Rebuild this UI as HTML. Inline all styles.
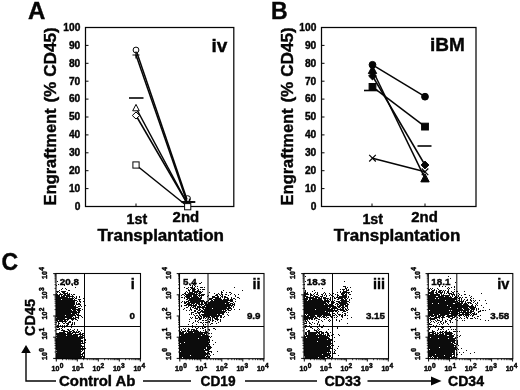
<!DOCTYPE html>
<html><head><meta charset="utf-8"><style>
html,body{margin:0;padding:0;background:#fff;}
svg{display:block;}
text{fill:#050505;stroke:#050505;stroke-width:0.4px;} .tk text{stroke-width:0.5px;}
</style></head><body>
<svg width="520" height="390" viewBox="0 0 520 390" style="filter:grayscale(1)">
<rect width="520" height="390" fill="#fff"/>
<rect x="85.5" y="27.5" width="148.3" height="179" fill="none" stroke="#050505" stroke-width="1.25"/>
<text x="80.3" y="209.8" font-size="10.2" text-anchor="end" font-family="Liberation Sans, sans-serif" font-weight="bold">0</text>
<line x1="85.5" y1="188.6" x2="88.5" y2="188.6" stroke="#050505" stroke-width="1"/>
<text x="80.3" y="191.9" font-size="10.2" text-anchor="end" font-family="Liberation Sans, sans-serif" font-weight="bold">10</text>
<line x1="85.5" y1="170.7" x2="88.5" y2="170.7" stroke="#050505" stroke-width="1"/>
<text x="80.3" y="174.0" font-size="10.2" text-anchor="end" font-family="Liberation Sans, sans-serif" font-weight="bold">20</text>
<line x1="85.5" y1="152.8" x2="88.5" y2="152.8" stroke="#050505" stroke-width="1"/>
<text x="80.3" y="156.1" font-size="10.2" text-anchor="end" font-family="Liberation Sans, sans-serif" font-weight="bold">30</text>
<line x1="85.5" y1="134.9" x2="88.5" y2="134.9" stroke="#050505" stroke-width="1"/>
<text x="80.3" y="138.2" font-size="10.2" text-anchor="end" font-family="Liberation Sans, sans-serif" font-weight="bold">40</text>
<line x1="85.5" y1="117.0" x2="88.5" y2="117.0" stroke="#050505" stroke-width="1"/>
<text x="80.3" y="120.3" font-size="10.2" text-anchor="end" font-family="Liberation Sans, sans-serif" font-weight="bold">50</text>
<line x1="85.5" y1="99.1" x2="88.5" y2="99.1" stroke="#050505" stroke-width="1"/>
<text x="80.3" y="102.4" font-size="10.2" text-anchor="end" font-family="Liberation Sans, sans-serif" font-weight="bold">60</text>
<line x1="85.5" y1="81.2" x2="88.5" y2="81.2" stroke="#050505" stroke-width="1"/>
<text x="80.3" y="84.5" font-size="10.2" text-anchor="end" font-family="Liberation Sans, sans-serif" font-weight="bold">70</text>
<line x1="85.5" y1="63.3" x2="88.5" y2="63.3" stroke="#050505" stroke-width="1"/>
<text x="80.3" y="66.6" font-size="10.2" text-anchor="end" font-family="Liberation Sans, sans-serif" font-weight="bold">80</text>
<line x1="85.5" y1="45.4" x2="88.5" y2="45.4" stroke="#050505" stroke-width="1"/>
<text x="80.3" y="48.7" font-size="10.2" text-anchor="end" font-family="Liberation Sans, sans-serif" font-weight="bold">90</text>
<text x="80.3" y="30.8" font-size="10.2" text-anchor="end" font-family="Liberation Sans, sans-serif" font-weight="bold">100</text>
<line x1="136" y1="206.5" x2="136" y2="203.5" stroke="#050505" stroke-width="1"/>
<line x1="187" y1="206.5" x2="187" y2="203.5" stroke="#050505" stroke-width="1"/>
<text transform="translate(56.2,205.4) rotate(-90)" font-size="16" textLength="97" lengthAdjust="spacingAndGlyphs" font-family="Liberation Sans, sans-serif" font-weight="bold">Engraftment</text>
<text transform="translate(56.2,102.6) rotate(-90)" font-size="16" textLength="75.4" lengthAdjust="spacingAndGlyphs" font-family="Liberation Sans, sans-serif" font-weight="bold">(% CD45)</text>
<rect x="321.5" y="27.5" width="154.5" height="179" fill="none" stroke="#050505" stroke-width="1.25"/>
<text x="316.3" y="209.8" font-size="10.2" text-anchor="end" font-family="Liberation Sans, sans-serif" font-weight="bold">0</text>
<line x1="321.5" y1="188.6" x2="324.5" y2="188.6" stroke="#050505" stroke-width="1"/>
<text x="316.3" y="191.9" font-size="10.2" text-anchor="end" font-family="Liberation Sans, sans-serif" font-weight="bold">10</text>
<line x1="321.5" y1="170.7" x2="324.5" y2="170.7" stroke="#050505" stroke-width="1"/>
<text x="316.3" y="174.0" font-size="10.2" text-anchor="end" font-family="Liberation Sans, sans-serif" font-weight="bold">20</text>
<line x1="321.5" y1="152.8" x2="324.5" y2="152.8" stroke="#050505" stroke-width="1"/>
<text x="316.3" y="156.1" font-size="10.2" text-anchor="end" font-family="Liberation Sans, sans-serif" font-weight="bold">30</text>
<line x1="321.5" y1="134.9" x2="324.5" y2="134.9" stroke="#050505" stroke-width="1"/>
<text x="316.3" y="138.2" font-size="10.2" text-anchor="end" font-family="Liberation Sans, sans-serif" font-weight="bold">40</text>
<line x1="321.5" y1="117.0" x2="324.5" y2="117.0" stroke="#050505" stroke-width="1"/>
<text x="316.3" y="120.3" font-size="10.2" text-anchor="end" font-family="Liberation Sans, sans-serif" font-weight="bold">50</text>
<line x1="321.5" y1="99.1" x2="324.5" y2="99.1" stroke="#050505" stroke-width="1"/>
<text x="316.3" y="102.4" font-size="10.2" text-anchor="end" font-family="Liberation Sans, sans-serif" font-weight="bold">60</text>
<line x1="321.5" y1="81.2" x2="324.5" y2="81.2" stroke="#050505" stroke-width="1"/>
<text x="316.3" y="84.5" font-size="10.2" text-anchor="end" font-family="Liberation Sans, sans-serif" font-weight="bold">70</text>
<line x1="321.5" y1="63.3" x2="324.5" y2="63.3" stroke="#050505" stroke-width="1"/>
<text x="316.3" y="66.6" font-size="10.2" text-anchor="end" font-family="Liberation Sans, sans-serif" font-weight="bold">80</text>
<line x1="321.5" y1="45.4" x2="324.5" y2="45.4" stroke="#050505" stroke-width="1"/>
<text x="316.3" y="48.7" font-size="10.2" text-anchor="end" font-family="Liberation Sans, sans-serif" font-weight="bold">90</text>
<text x="316.3" y="30.8" font-size="10.2" text-anchor="end" font-family="Liberation Sans, sans-serif" font-weight="bold">100</text>
<line x1="372" y1="206.5" x2="372" y2="203.5" stroke="#050505" stroke-width="1"/>
<line x1="425" y1="206.5" x2="425" y2="203.5" stroke="#050505" stroke-width="1"/>
<text transform="translate(292.8,205.4) rotate(-90)" font-size="16" textLength="97" lengthAdjust="spacingAndGlyphs" font-family="Liberation Sans, sans-serif" font-weight="bold">Engraftment</text>
<text transform="translate(292.8,102.6) rotate(-90)" font-size="16" textLength="75.4" lengthAdjust="spacingAndGlyphs" font-family="Liberation Sans, sans-serif" font-weight="bold">(% CD45)</text>
<text x="28" y="19" font-size="24" font-family="Liberation Sans, sans-serif" font-weight="bold">A</text>
<text x="271" y="18.5" font-size="23" font-family="Liberation Sans, sans-serif" font-weight="bold">B</text>
<text x="1.5" y="269.8" font-size="23" font-family="Liberation Sans, sans-serif" font-weight="bold">C</text>
<text x="211.5" y="51.7" font-size="19" font-family="Liberation Sans, sans-serif" font-weight="bold">iv</text>
<text x="430" y="50.8" font-size="19" font-family="Liberation Sans, sans-serif" font-weight="bold">iBM</text>
<text x="126.6" y="223.6" font-size="13.8" textLength="20.6" lengthAdjust="spacingAndGlyphs" font-family="Liberation Sans, sans-serif" font-weight="bold">1st</text>
<text x="172.6" y="222" font-size="14.2" textLength="26.6" lengthAdjust="spacingAndGlyphs" font-family="Liberation Sans, sans-serif" font-weight="bold">2nd</text>
<text x="97.4" y="240.6" font-size="15.6" textLength="126.6" lengthAdjust="spacingAndGlyphs" font-family="Liberation Sans, sans-serif" font-weight="bold">Transplantation</text>
<text x="362.4" y="223.6" font-size="13.8" textLength="20.6" lengthAdjust="spacingAndGlyphs" font-family="Liberation Sans, sans-serif" font-weight="bold">1st</text>
<text x="411.3" y="222" font-size="14.2" textLength="26.6" lengthAdjust="spacingAndGlyphs" font-family="Liberation Sans, sans-serif" font-weight="bold">2nd</text>
<text x="333.8" y="240.6" font-size="15.6" textLength="126.6" lengthAdjust="spacingAndGlyphs" font-family="Liberation Sans, sans-serif" font-weight="bold">Transplantation</text>
<line x1="136" y1="50.0" x2="187" y2="199.5" stroke="#050505" stroke-width="1.5"/>
<line x1="136" y1="55.0" x2="187" y2="202.0" stroke="#050505" stroke-width="1.5"/>
<line x1="136" y1="108.0" x2="187" y2="203.0" stroke="#050505" stroke-width="1.5"/>
<line x1="136" y1="115.5" x2="187" y2="203.0" stroke="#050505" stroke-width="1.5"/>
<line x1="136" y1="165.0" x2="187" y2="206.0" stroke="#050505" stroke-width="1.5"/>
<circle cx="136" cy="50" r="2.9" fill="#fff" stroke="#050505" stroke-width="1"/>
<path d="M132.5 55 H139.5 M136 51.5 V58.5" fill="none" stroke="#050505" stroke-width="1.2"/>
<path d="M136 104.4 L139.3 110.8 L132.7 110.8 Z" fill="#fff" stroke="#050505" stroke-width="1"/>
<path d="M136 112.0 L139.7 115.5 L136 119.0 L132.3 115.5 Z" fill="#fff" stroke="#050505" stroke-width="1"/>
<rect x="132.9" y="161.9" width="6.2" height="6.2" fill="#fff" stroke="#050505" stroke-width="1"/>
<circle cx="187.6" cy="198.6" r="2.9" fill="none" stroke="#050505" stroke-width="1"/>
<path d="M186.0 201.9 H193.0 M189.5 198.4 V205.4" fill="none" stroke="#050505" stroke-width="1.2"/>
<rect x="184.6" y="203.6" width="6.2" height="6.2" fill="#fff" stroke="#050505" stroke-width="1"/>
<line x1="129" y1="98" x2="143.5" y2="98" stroke="#050505" stroke-width="1.6"/>
<line x1="181.5" y1="202" x2="195.3" y2="202" stroke="#050505" stroke-width="1.9"/>
<line x1="372.5" y1="64.8" x2="425" y2="96.7" stroke="#050505" stroke-width="1.5"/>
<line x1="372.5" y1="70.0" x2="425" y2="178.3" stroke="#050505" stroke-width="1.5"/>
<line x1="372.5" y1="76.0" x2="425" y2="165.0" stroke="#050505" stroke-width="1.5"/>
<line x1="372.5" y1="86.9" x2="425" y2="126.6" stroke="#050505" stroke-width="1.5"/>
<line x1="372.5" y1="158.2" x2="425" y2="171.8" stroke="#050505" stroke-width="1.5"/>
<circle cx="372.5" cy="64.8" r="3.4" fill="#050505" stroke="#050505" stroke-width="1"/>
<circle cx="425" cy="96.7" r="3.4" fill="#050505" stroke="#050505" stroke-width="1"/>
<path d="M372.5 65.4 L376.7 73.6 L368.3 73.6 Z" fill="#050505" stroke="#050505" stroke-width="1"/>
<path d="M425 173.70000000000002 L429.2 181.9 L420.8 181.9 Z" fill="#050505" stroke="#050505" stroke-width="1"/>
<path d="M372.5 72.1 L376.4 76.0 L372.5 79.9 L368.6 76.0 Z" fill="#050505" stroke="#050505" stroke-width="1"/>
<path d="M425 161.1 L428.9 165 L425 168.9 L421.1 165 Z" fill="#050505" stroke="#050505" stroke-width="1"/>
<rect x="369.1" y="83.5" width="6.8" height="6.8" fill="#050505" stroke="#050505" stroke-width="1"/>
<rect x="421.6" y="123.19999999999999" width="6.8" height="6.8" fill="#050505" stroke="#050505" stroke-width="1"/>
<path d="M369.2 154.89999999999998 L375.8 161.5 M369.2 161.5 L375.8 154.89999999999998" fill="none" stroke="#050505" stroke-width="1.2"/>
<path d="M421.7 168.5 L428.3 175.10000000000002 M421.7 175.10000000000002 L428.3 168.5" fill="none" stroke="#050505" stroke-width="1.2"/>
<line x1="364" y1="90.5" x2="378" y2="90.5" stroke="#050505" stroke-width="1.6"/>
<line x1="417.5" y1="146" x2="431.5" y2="146" stroke="#050505" stroke-width="1.6"/>
<path d="M57 281h1v1h-1zM58 284h1v1h-1zM64 284h1v1h-1zM56 285h1v1h-1zM64 285h1v1h-1zM72 285h1v1h-1zM75 287h1v1h-1zM62 288h1v1h-1zM65 288h1v1h-1zM61 289h1v1h-1zM66 289h1v1h-1zM59 290h1v1h-1zM68 290h2v1h-2zM56 291h3v1h-3zM61 291h5v1h-5zM57 292h1v1h-1zM59 292h1v1h-1zM62 292h3v1h-3zM67 292h1v1h-1zM84 292h1v1h-1zM56 293h1v1h-1zM60 293h1v1h-1zM63 293h5v1h-5zM69 293h1v1h-1zM56 294h2v1h-2zM59 294h4v1h-4zM64 294h2v1h-2zM67 294h3v1h-3zM71 294h1v1h-1zM73 294h2v1h-2zM56 295h4v1h-4zM61 295h1v1h-1zM63 295h7v1h-7zM72 295h1v1h-1zM56 296h4v1h-4zM61 296h4v1h-4zM66 296h8v1h-8zM76 296h1v1h-1zM79 296h1v1h-1zM56 297h12v1h-12zM69 297h1v1h-1zM72 297h1v1h-1zM74 297h1v1h-1zM76 297h1v1h-1zM79 297h1v1h-1zM56 298h18v1h-18zM75 298h2v1h-2zM83 298h1v1h-1zM56 299h5v1h-5zM62 299h11v1h-11zM74 299h1v1h-1zM78 299h3v1h-3zM56 300h21v1h-21zM79 300h1v1h-1zM56 301h19v1h-19zM77 301h1v1h-1zM79 301h2v1h-2zM83 301h1v1h-1zM56 302h19v1h-19zM76 302h1v1h-1zM80 302h1v1h-1zM56 303h19v1h-19zM76 303h1v1h-1zM78 303h2v1h-2zM56 304h19v1h-19zM76 304h5v1h-5zM56 305h18v1h-18zM75 305h1v1h-1zM80 305h1v1h-1zM85 305h1v1h-1zM56 306h20v1h-20zM78 306h2v1h-2zM81 306h1v1h-1zM56 307h22v1h-22zM56 308h20v1h-20zM78 308h3v1h-3zM56 309h15v1h-15zM72 309h8v1h-8zM82 309h1v1h-1zM56 310h16v1h-16zM73 310h3v1h-3zM77 310h4v1h-4zM56 311h21v1h-21zM78 311h2v1h-2zM56 312h24v1h-24zM56 313h15v1h-15zM72 313h5v1h-5zM78 313h1v1h-1zM56 314h19v1h-19zM76 314h3v1h-3zM56 315h9v1h-9zM66 315h10v1h-10zM77 315h4v1h-4zM56 316h17v1h-17zM75 316h1v1h-1zM78 316h1v1h-1zM81 316h1v1h-1zM57 317h15v1h-15zM73 317h1v1h-1zM75 317h4v1h-4zM82 317h1v1h-1zM56 318h9v1h-9zM67 318h9v1h-9zM78 318h1v1h-1zM56 319h13v1h-13zM71 319h3v1h-3zM75 319h2v1h-2zM56 320h2v1h-2zM59 320h4v1h-4zM64 320h2v1h-2zM67 320h1v1h-1zM72 320h1v1h-1zM77 320h1v1h-1zM57 321h10v1h-10zM69 321h2v1h-2zM56 322h1v1h-1zM58 322h1v1h-1zM62 322h1v1h-1zM65 322h1v1h-1zM68 322h3v1h-3zM72 322h1v1h-1zM74 322h1v1h-1zM58 323h2v1h-2zM63 323h2v1h-2zM66 323h3v1h-3zM72 323h1v1h-1zM74 323h1v1h-1zM58 324h1v1h-1zM67 324h2v1h-2zM71 324h2v1h-2zM74 324h1v1h-1zM57 325h2v1h-2zM60 325h1v1h-1zM62 325h1v1h-1zM64 325h1v1h-1zM66 325h2v1h-2zM71 325h1v1h-1zM63 326h1v1h-1zM65 326h1v1h-1zM57 327h2v1h-2zM62 327h1v1h-1zM64 327h1v1h-1zM71 327h1v1h-1zM59 328h1v1h-1zM61 328h1v1h-1zM56 329h4v1h-4zM62 329h1v1h-1zM67 329h2v1h-2zM70 329h1v1h-1zM74 329h1v1h-1zM77 329h1v1h-1zM61 330h4v1h-4zM68 330h2v1h-2zM72 330h2v1h-2zM77 330h1v1h-1zM81 330h1v1h-1zM63 331h5v1h-5zM69 331h3v1h-3zM73 331h2v1h-2zM76 331h1v1h-1zM78 331h2v1h-2zM59 332h6v1h-6zM67 332h4v1h-4zM72 332h7v1h-7zM80 332h1v1h-1zM56 333h10v1h-10zM67 333h6v1h-6zM75 333h1v1h-1zM79 333h2v1h-2zM82 333h2v1h-2zM56 334h16v1h-16zM73 334h10v1h-10zM57 335h9v1h-9zM67 335h11v1h-11zM80 335h1v1h-1zM82 335h2v1h-2zM56 336h22v1h-22zM79 336h4v1h-4zM57 337h28v1h-28zM56 338h27v1h-27zM56 339h25v1h-25zM85 339h1v1h-1zM56 340h27v1h-27zM84 340h2v1h-2zM56 341h27v1h-27zM84 341h1v1h-1zM56 342h25v1h-25zM82 342h1v1h-1zM85 342h1v1h-1zM56 343h28v1h-28zM56 344h25v1h-25zM56 345h26v1h-26zM56 346h28v1h-28zM56 347h25v1h-25zM82 347h1v1h-1zM56 348h28v1h-28zM85 348h1v1h-1zM56 349h28v1h-28zM57 350h24v1h-24zM82 350h1v1h-1zM56 351h26v1h-26zM57 352h24v1h-24zM83 352h2v1h-2zM56 353h25v1h-25zM82 353h2v1h-2zM56 354h27v1h-27zM56 355h25v1h-25zM82 355h1v1h-1zM56 356h28v1h-28zM56 357h26v1h-26zM83 357h2v1h-2zM56 358h25v1h-25zM82 358h2v1h-2z" fill="#0c0c0c"/>
<rect x="56" y="273.5" width="84.5" height="85.19999999999999" fill="none" stroke="#050505" stroke-width="1.1"/>
<line x1="84.5" y1="273.5" x2="84.5" y2="358.7" stroke="#050505" stroke-width="1"/>
<line x1="56" y1="326.5" x2="140.5" y2="326.5" stroke="#050505" stroke-width="1"/>
<path d="M62.6 358.7v1.5M56 352.0h-1.5M66.3 358.7v1.5M56 348.3h-1.5M68.9 358.7v1.5M56 345.6h-1.5M71.0 358.7v1.5M56 343.6h-1.5M72.6 358.7v1.5M56 341.9h-1.5M74.0 358.7v1.5M56 340.5h-1.5M75.3 358.7v1.5M56 339.3h-1.5M76.3 358.7v1.5M56 338.2h-1.5M83.6 358.7v1.5M56 330.8h-1.5M87.3 358.7v1.5M56 327.1h-1.5M89.9 358.7v1.5M56 324.4h-1.5M92.0 358.7v1.5M56 322.4h-1.5M93.6 358.7v1.5M56 320.7h-1.5M95.0 358.7v1.5M56 319.3h-1.5M96.3 358.7v1.5M56 318.1h-1.5M97.3 358.7v1.5M56 317.0h-1.5M104.6 358.7v1.5M56 309.6h-1.5M108.3 358.7v1.5M56 305.9h-1.5M110.9 358.7v1.5M56 303.2h-1.5M113.0 358.7v1.5M56 301.2h-1.5M114.6 358.7v1.5M56 299.5h-1.5M116.0 358.7v1.5M56 298.1h-1.5M117.3 358.7v1.5M56 296.9h-1.5M118.3 358.7v1.5M56 295.8h-1.5M125.6 358.7v1.5M56 288.4h-1.5M129.3 358.7v1.5M56 284.7h-1.5M131.9 358.7v1.5M56 282.0h-1.5M134.0 358.7v1.5M56 280.0h-1.5M135.6 358.7v1.5M56 278.3h-1.5M137.0 358.7v1.5M56 276.9h-1.5M138.3 358.7v1.5M56 275.7h-1.5M139.3 358.7v1.5M56 274.6h-1.5" fill="none" stroke="#050505" stroke-width="0.8"/>
<line x1="56.3" y1="358.7" x2="56.3" y2="361.5" stroke="#050505" stroke-width="1"/>
<line x1="56" y1="358.4" x2="53.2" y2="358.4" stroke="#050505" stroke-width="1"/>
<g class="tk" transform="translate(51.6,371.2) scale(0.88,1)"><text x="0" y="0" font-size="8" font-family="Liberation Sans, sans-serif" font-weight="bold">10<tspan dy="-3.6" dx="0.3" font-size="7.5">0</tspan></text></g>
<g class="tk" transform="translate(47.4,359.9) rotate(-90) scale(0.88,1)"><text x="0" y="0" font-size="8" font-family="Liberation Sans, sans-serif" font-weight="bold">10<tspan dy="-3.6" dx="0.3" font-size="7.5">0</tspan></text></g>
<line x1="77.3" y1="358.7" x2="77.3" y2="361.5" stroke="#050505" stroke-width="1"/>
<line x1="56" y1="337.2" x2="53.2" y2="337.2" stroke="#050505" stroke-width="1"/>
<g class="tk" transform="translate(72.0,371.2) scale(0.88,1)"><text x="0" y="0" font-size="8" font-family="Liberation Sans, sans-serif" font-weight="bold">10<tspan dy="-3.6" dx="0.3" font-size="7.5">1</tspan></text></g>
<g class="tk" transform="translate(47.4,339.6) rotate(-90) scale(0.88,1)"><text x="0" y="0" font-size="8" font-family="Liberation Sans, sans-serif" font-weight="bold">10<tspan dy="-3.6" dx="0.3" font-size="7.5">1</tspan></text></g>
<line x1="98.3" y1="358.7" x2="98.3" y2="361.5" stroke="#050505" stroke-width="1"/>
<line x1="56" y1="316.0" x2="53.2" y2="316.0" stroke="#050505" stroke-width="1"/>
<g class="tk" transform="translate(92.5,371.2) scale(0.88,1)"><text x="0" y="0" font-size="8" font-family="Liberation Sans, sans-serif" font-weight="bold">10<tspan dy="-3.6" dx="0.3" font-size="7.5">2</tspan></text></g>
<g class="tk" transform="translate(47.4,319.4) rotate(-90) scale(0.88,1)"><text x="0" y="0" font-size="8" font-family="Liberation Sans, sans-serif" font-weight="bold">10<tspan dy="-3.6" dx="0.3" font-size="7.5">2</tspan></text></g>
<line x1="119.3" y1="358.7" x2="119.3" y2="361.5" stroke="#050505" stroke-width="1"/>
<line x1="56" y1="294.8" x2="53.2" y2="294.8" stroke="#050505" stroke-width="1"/>
<g class="tk" transform="translate(112.9,371.2) scale(0.88,1)"><text x="0" y="0" font-size="8" font-family="Liberation Sans, sans-serif" font-weight="bold">10<tspan dy="-3.6" dx="0.3" font-size="7.5">3</tspan></text></g>
<g class="tk" transform="translate(47.4,299.1) rotate(-90) scale(0.88,1)"><text x="0" y="0" font-size="8" font-family="Liberation Sans, sans-serif" font-weight="bold">10<tspan dy="-3.6" dx="0.3" font-size="7.5">3</tspan></text></g>
<line x1="140.3" y1="358.7" x2="140.3" y2="361.5" stroke="#050505" stroke-width="1"/>
<line x1="56" y1="273.6" x2="53.2" y2="273.6" stroke="#050505" stroke-width="1"/>
<g class="tk" transform="translate(133.4,371.2) scale(0.88,1)"><text x="0" y="0" font-size="8" font-family="Liberation Sans, sans-serif" font-weight="bold">10<tspan dy="-3.6" dx="0.3" font-size="7.5">4</tspan></text></g>
<g class="tk" transform="translate(47.4,278.9) rotate(-90) scale(0.88,1)"><text x="0" y="0" font-size="8" font-family="Liberation Sans, sans-serif" font-weight="bold">10<tspan dy="-3.6" dx="0.3" font-size="7.5">4</tspan></text></g>
<text x="59.8" y="284.8" font-size="9.8" font-family="Liberation Sans, sans-serif" font-weight="bold">20.8</text>
<text x="134.9" y="318.5" font-size="9.8" text-anchor="end" font-family="Liberation Sans, sans-serif" font-weight="bold">0</text>
<text x="134.9" y="288.6" font-size="14.5" text-anchor="end" font-family="Liberation Sans, sans-serif" font-weight="bold">i</text>
<path d="M194 282h1v1h-1zM201 282h1v1h-1zM199 283h2v1h-2zM189 284h1v1h-1zM193 284h1v1h-1zM190 285h1v1h-1zM192 285h1v1h-1zM194 285h1v1h-1zM192 286h1v1h-1zM195 286h1v1h-1zM197 286h1v1h-1zM184 287h1v1h-1zM188 287h1v1h-1zM190 287h3v1h-3zM194 287h1v1h-1zM200 287h3v1h-3zM204 287h1v1h-1zM234 287h1v1h-1zM186 288h2v1h-2zM191 288h4v1h-4zM197 288h1v1h-1zM188 289h1v1h-1zM190 289h1v1h-1zM192 289h4v1h-4zM198 289h1v1h-1zM200 289h1v1h-1zM202 289h3v1h-3zM188 290h2v1h-2zM192 290h3v1h-3zM197 290h2v1h-2zM223 290h1v1h-1zM242 290h1v1h-1zM186 291h1v1h-1zM189 291h1v1h-1zM192 291h9v1h-9zM202 291h1v1h-1zM221 291h1v1h-1zM185 292h1v1h-1zM187 292h1v1h-1zM189 292h4v1h-4zM194 292h4v1h-4zM199 292h3v1h-3zM209 292h1v1h-1zM221 292h2v1h-2zM226 292h1v1h-1zM229 292h2v1h-2zM184 293h2v1h-2zM188 293h7v1h-7zM196 293h1v1h-1zM198 293h3v1h-3zM214 293h1v1h-1zM218 293h1v1h-1zM221 293h1v1h-1zM231 293h1v1h-1zM182 294h2v1h-2zM185 294h13v1h-13zM199 294h1v1h-1zM201 294h4v1h-4zM216 294h2v1h-2zM219 294h1v1h-1zM221 294h2v1h-2zM225 294h2v1h-2zM230 294h1v1h-1zM234 294h1v1h-1zM238 294h1v1h-1zM181 295h1v1h-1zM184 295h1v1h-1zM186 295h6v1h-6zM193 295h4v1h-4zM198 295h6v1h-6zM208 295h1v1h-1zM215 295h3v1h-3zM220 295h1v1h-1zM222 295h1v1h-1zM228 295h1v1h-1zM235 295h1v1h-1zM185 296h7v1h-7zM193 296h5v1h-5zM199 296h1v1h-1zM201 296h1v1h-1zM207 296h1v1h-1zM212 296h3v1h-3zM217 296h2v1h-2zM221 296h2v1h-2zM224 296h2v1h-2zM235 296h1v1h-1zM181 297h2v1h-2zM184 297h1v1h-1zM186 297h4v1h-4zM191 297h8v1h-8zM200 297h2v1h-2zM212 297h7v1h-7zM220 297h1v1h-1zM222 297h1v1h-1zM224 297h4v1h-4zM231 297h1v1h-1zM237 297h2v1h-2zM184 298h1v1h-1zM187 298h15v1h-15zM209 298h4v1h-4zM215 298h6v1h-6zM224 298h1v1h-1zM227 298h2v1h-2zM231 298h1v1h-1zM233 298h2v1h-2zM239 298h1v1h-1zM186 299h2v1h-2zM189 299h12v1h-12zM209 299h3v1h-3zM213 299h9v1h-9zM223 299h6v1h-6zM230 299h3v1h-3zM235 299h1v1h-1zM188 300h16v1h-16zM208 300h1v1h-1zM211 300h2v1h-2zM214 300h19v1h-19zM182 301h1v1h-1zM184 301h1v1h-1zM186 301h3v1h-3zM190 301h15v1h-15zM206 301h2v1h-2zM210 301h18v1h-18zM230 301h3v1h-3zM235 301h1v1h-1zM181 302h1v1h-1zM184 302h3v1h-3zM188 302h12v1h-12zM201 302h2v1h-2zM204 302h3v1h-3zM208 302h22v1h-22zM233 302h1v1h-1zM184 303h2v1h-2zM187 303h3v1h-3zM191 303h4v1h-4zM196 303h4v1h-4zM201 303h2v1h-2zM204 303h3v1h-3zM208 303h17v1h-17zM226 303h3v1h-3zM230 303h3v1h-3zM234 303h1v1h-1zM186 304h6v1h-6zM193 304h1v1h-1zM195 304h2v1h-2zM198 304h6v1h-6zM205 304h26v1h-26zM232 304h3v1h-3zM181 305h1v1h-1zM184 305h3v1h-3zM188 305h9v1h-9zM199 305h1v1h-1zM201 305h1v1h-1zM204 305h29v1h-29zM234 305h1v1h-1zM181 306h1v1h-1zM188 306h1v1h-1zM191 306h1v1h-1zM193 306h3v1h-3zM197 306h4v1h-4zM202 306h3v1h-3zM206 306h24v1h-24zM231 306h1v1h-1zM233 306h1v1h-1zM186 307h2v1h-2zM190 307h1v1h-1zM192 307h2v1h-2zM195 307h1v1h-1zM197 307h30v1h-30zM228 307h3v1h-3zM233 307h1v1h-1zM184 308h1v1h-1zM190 308h1v1h-1zM194 308h4v1h-4zM199 308h1v1h-1zM202 308h2v1h-2zM205 308h7v1h-7zM213 308h19v1h-19zM183 309h1v1h-1zM190 309h2v1h-2zM196 309h2v1h-2zM199 309h2v1h-2zM203 309h23v1h-23zM227 309h2v1h-2zM231 309h1v1h-1zM234 309h1v1h-1zM239 309h1v1h-1zM186 310h1v1h-1zM189 310h1v1h-1zM191 310h1v1h-1zM194 310h2v1h-2zM198 310h2v1h-2zM201 310h2v1h-2zM204 310h18v1h-18zM223 310h1v1h-1zM225 310h2v1h-2zM228 310h3v1h-3zM194 311h2v1h-2zM197 311h1v1h-1zM200 311h26v1h-26zM191 312h3v1h-3zM197 312h4v1h-4zM202 312h23v1h-23zM226 312h1v1h-1zM228 312h1v1h-1zM191 313h1v1h-1zM195 313h2v1h-2zM198 313h2v1h-2zM204 313h20v1h-20zM189 314h1v1h-1zM191 314h1v1h-1zM193 314h1v1h-1zM199 314h1v1h-1zM201 314h16v1h-16zM218 314h2v1h-2zM222 314h2v1h-2zM227 314h1v1h-1zM194 315h1v1h-1zM196 315h2v1h-2zM199 315h2v1h-2zM202 315h20v1h-20zM228 315h1v1h-1zM195 316h1v1h-1zM198 316h1v1h-1zM200 316h2v1h-2zM203 316h7v1h-7zM211 316h8v1h-8zM220 316h2v1h-2zM224 316h1v1h-1zM190 317h1v1h-1zM192 317h1v1h-1zM195 317h1v1h-1zM198 317h2v1h-2zM201 317h1v1h-1zM203 317h2v1h-2zM206 317h1v1h-1zM208 317h3v1h-3zM212 317h3v1h-3zM216 317h2v1h-2zM220 317h2v1h-2zM223 317h1v1h-1zM191 318h1v1h-1zM195 318h3v1h-3zM199 318h3v1h-3zM203 318h1v1h-1zM205 318h1v1h-1zM208 318h1v1h-1zM210 318h1v1h-1zM212 318h1v1h-1zM214 318h4v1h-4zM189 319h1v1h-1zM199 319h2v1h-2zM207 319h1v1h-1zM209 319h2v1h-2zM212 319h1v1h-1zM215 319h4v1h-4zM220 319h1v1h-1zM195 320h1v1h-1zM198 320h1v1h-1zM202 320h2v1h-2zM205 320h2v1h-2zM210 320h1v1h-1zM212 320h2v1h-2zM217 320h1v1h-1zM220 320h1v1h-1zM189 321h1v1h-1zM195 321h1v1h-1zM197 321h1v1h-1zM208 321h2v1h-2zM212 321h1v1h-1zM215 321h1v1h-1zM220 321h1v1h-1zM193 322h1v1h-1zM198 322h1v1h-1zM200 322h2v1h-2zM203 322h1v1h-1zM205 322h3v1h-3zM209 322h1v1h-1zM218 322h1v1h-1zM192 323h1v1h-1zM202 323h1v1h-1zM211 323h2v1h-2zM216 323h1v1h-1zM188 324h1v1h-1zM196 324h1v1h-1zM203 324h1v1h-1zM205 324h1v1h-1zM210 324h1v1h-1zM192 325h1v1h-1zM203 325h1v1h-1zM193 326h1v1h-1zM205 326h1v1h-1zM192 327h1v1h-1zM195 327h1v1h-1zM198 327h1v1h-1zM202 327h1v1h-1zM204 327h2v1h-2zM183 328h1v1h-1zM185 328h1v1h-1zM188 328h1v1h-1zM196 328h2v1h-2zM200 328h1v1h-1zM202 328h2v1h-2zM213 328h2v1h-2zM181 329h1v1h-1zM184 329h1v1h-1zM188 329h2v1h-2zM191 329h4v1h-4zM196 329h1v1h-1zM205 329h1v1h-1zM208 329h2v1h-2zM215 329h1v1h-1zM181 330h1v1h-1zM185 330h1v1h-1zM187 330h2v1h-2zM191 330h1v1h-1zM193 330h5v1h-5zM203 330h1v1h-1zM205 330h1v1h-1zM209 330h1v1h-1zM180 331h1v1h-1zM182 331h4v1h-4zM187 331h12v1h-12zM200 331h1v1h-1zM205 331h2v1h-2zM180 332h4v1h-4zM186 332h1v1h-1zM188 332h5v1h-5zM194 332h14v1h-14zM180 333h4v1h-4zM185 333h18v1h-18zM204 333h3v1h-3zM208 333h2v1h-2zM211 333h1v1h-1zM180 334h25v1h-25zM206 334h1v1h-1zM181 335h20v1h-20zM202 335h6v1h-6zM180 336h30v1h-30zM211 336h1v1h-1zM180 337h29v1h-29zM210 337h1v1h-1zM180 338h18v1h-18zM199 338h10v1h-10zM180 339h30v1h-30zM180 340h30v1h-30zM212 340h1v1h-1zM180 341h28v1h-28zM209 341h1v1h-1zM180 342h4v1h-4zM185 342h25v1h-25zM215 342h1v1h-1zM181 343h28v1h-28zM180 344h30v1h-30zM213 344h1v1h-1zM180 345h28v1h-28zM209 345h1v1h-1zM180 346h31v1h-31zM180 347h26v1h-26zM207 347h5v1h-5zM180 348h26v1h-26zM207 348h4v1h-4zM180 349h24v1h-24zM205 349h5v1h-5zM180 350h29v1h-29zM181 351h24v1h-24zM208 351h4v1h-4zM217 351h1v1h-1zM180 352h26v1h-26zM207 352h2v1h-2zM211 352h1v1h-1zM180 353h30v1h-30zM180 354h28v1h-28zM209 354h1v1h-1zM213 354h1v1h-1zM180 355h10v1h-10zM191 355h15v1h-15zM207 355h1v1h-1zM210 355h1v1h-1zM180 356h25v1h-25zM206 356h4v1h-4zM180 357h2v1h-2zM183 357h24v1h-24zM208 357h2v1h-2zM181 358h27v1h-27zM209 358h1v1h-1z" fill="#0c0c0c"/>
<rect x="179.5" y="273.5" width="84.5" height="85.19999999999999" fill="none" stroke="#050505" stroke-width="1.1"/>
<line x1="208.0" y1="273.5" x2="208.0" y2="358.7" stroke="#050505" stroke-width="1"/>
<line x1="179.5" y1="326.5" x2="264.0" y2="326.5" stroke="#050505" stroke-width="1"/>
<path d="M186.1 358.7v1.5M179.5 352.0h-1.5M189.8 358.7v1.5M179.5 348.3h-1.5M192.4 358.7v1.5M179.5 345.6h-1.5M194.5 358.7v1.5M179.5 343.6h-1.5M196.1 358.7v1.5M179.5 341.9h-1.5M197.5 358.7v1.5M179.5 340.5h-1.5M198.8 358.7v1.5M179.5 339.3h-1.5M199.8 358.7v1.5M179.5 338.2h-1.5M207.1 358.7v1.5M179.5 330.8h-1.5M210.8 358.7v1.5M179.5 327.1h-1.5M213.4 358.7v1.5M179.5 324.4h-1.5M215.5 358.7v1.5M179.5 322.4h-1.5M217.1 358.7v1.5M179.5 320.7h-1.5M218.5 358.7v1.5M179.5 319.3h-1.5M219.8 358.7v1.5M179.5 318.1h-1.5M220.8 358.7v1.5M179.5 317.0h-1.5M228.1 358.7v1.5M179.5 309.6h-1.5M231.8 358.7v1.5M179.5 305.9h-1.5M234.4 358.7v1.5M179.5 303.2h-1.5M236.5 358.7v1.5M179.5 301.2h-1.5M238.1 358.7v1.5M179.5 299.5h-1.5M239.5 358.7v1.5M179.5 298.1h-1.5M240.8 358.7v1.5M179.5 296.9h-1.5M241.8 358.7v1.5M179.5 295.8h-1.5M249.1 358.7v1.5M179.5 288.4h-1.5M252.8 358.7v1.5M179.5 284.7h-1.5M255.4 358.7v1.5M179.5 282.0h-1.5M257.5 358.7v1.5M179.5 280.0h-1.5M259.1 358.7v1.5M179.5 278.3h-1.5M260.5 358.7v1.5M179.5 276.9h-1.5M261.8 358.7v1.5M179.5 275.7h-1.5M262.8 358.7v1.5M179.5 274.6h-1.5" fill="none" stroke="#050505" stroke-width="0.8"/>
<line x1="179.8" y1="358.7" x2="179.8" y2="361.5" stroke="#050505" stroke-width="1"/>
<line x1="179.5" y1="358.4" x2="176.7" y2="358.4" stroke="#050505" stroke-width="1"/>
<g class="tk" transform="translate(175.1,371.2) scale(0.88,1)"><text x="0" y="0" font-size="8" font-family="Liberation Sans, sans-serif" font-weight="bold">10<tspan dy="-3.6" dx="0.3" font-size="7.5">0</tspan></text></g>
<g class="tk" transform="translate(170.9,359.9) rotate(-90) scale(0.88,1)"><text x="0" y="0" font-size="8" font-family="Liberation Sans, sans-serif" font-weight="bold">10<tspan dy="-3.6" dx="0.3" font-size="7.5">0</tspan></text></g>
<line x1="200.8" y1="358.7" x2="200.8" y2="361.5" stroke="#050505" stroke-width="1"/>
<line x1="179.5" y1="337.2" x2="176.7" y2="337.2" stroke="#050505" stroke-width="1"/>
<g class="tk" transform="translate(195.5,371.2) scale(0.88,1)"><text x="0" y="0" font-size="8" font-family="Liberation Sans, sans-serif" font-weight="bold">10<tspan dy="-3.6" dx="0.3" font-size="7.5">1</tspan></text></g>
<g class="tk" transform="translate(170.9,339.6) rotate(-90) scale(0.88,1)"><text x="0" y="0" font-size="8" font-family="Liberation Sans, sans-serif" font-weight="bold">10<tspan dy="-3.6" dx="0.3" font-size="7.5">1</tspan></text></g>
<line x1="221.8" y1="358.7" x2="221.8" y2="361.5" stroke="#050505" stroke-width="1"/>
<line x1="179.5" y1="316.0" x2="176.7" y2="316.0" stroke="#050505" stroke-width="1"/>
<g class="tk" transform="translate(216.0,371.2) scale(0.88,1)"><text x="0" y="0" font-size="8" font-family="Liberation Sans, sans-serif" font-weight="bold">10<tspan dy="-3.6" dx="0.3" font-size="7.5">2</tspan></text></g>
<g class="tk" transform="translate(170.9,319.4) rotate(-90) scale(0.88,1)"><text x="0" y="0" font-size="8" font-family="Liberation Sans, sans-serif" font-weight="bold">10<tspan dy="-3.6" dx="0.3" font-size="7.5">2</tspan></text></g>
<line x1="242.8" y1="358.7" x2="242.8" y2="361.5" stroke="#050505" stroke-width="1"/>
<line x1="179.5" y1="294.8" x2="176.7" y2="294.8" stroke="#050505" stroke-width="1"/>
<g class="tk" transform="translate(236.4,371.2) scale(0.88,1)"><text x="0" y="0" font-size="8" font-family="Liberation Sans, sans-serif" font-weight="bold">10<tspan dy="-3.6" dx="0.3" font-size="7.5">3</tspan></text></g>
<g class="tk" transform="translate(170.9,299.1) rotate(-90) scale(0.88,1)"><text x="0" y="0" font-size="8" font-family="Liberation Sans, sans-serif" font-weight="bold">10<tspan dy="-3.6" dx="0.3" font-size="7.5">3</tspan></text></g>
<line x1="263.8" y1="358.7" x2="263.8" y2="361.5" stroke="#050505" stroke-width="1"/>
<line x1="179.5" y1="273.6" x2="176.7" y2="273.6" stroke="#050505" stroke-width="1"/>
<g class="tk" transform="translate(256.9,371.2) scale(0.88,1)"><text x="0" y="0" font-size="8" font-family="Liberation Sans, sans-serif" font-weight="bold">10<tspan dy="-3.6" dx="0.3" font-size="7.5">4</tspan></text></g>
<g class="tk" transform="translate(170.9,278.9) rotate(-90) scale(0.88,1)"><text x="0" y="0" font-size="8" font-family="Liberation Sans, sans-serif" font-weight="bold">10<tspan dy="-3.6" dx="0.3" font-size="7.5">4</tspan></text></g>
<text x="183.0" y="284.8" font-size="9.8" font-family="Liberation Sans, sans-serif" font-weight="bold">5.4</text>
<text x="260.5" y="318.5" font-size="9.8" text-anchor="end" font-family="Liberation Sans, sans-serif" font-weight="bold">9.9</text>
<text x="260.5" y="288.6" font-size="14.5" text-anchor="end" font-family="Liberation Sans, sans-serif" font-weight="bold">ii</text>
<path d="M305 276h1v1h-1zM305 281h1v1h-1zM344 281h1v1h-1zM304 284h1v1h-1zM343 286h3v1h-3zM345 287h1v1h-1zM347 287h1v1h-1zM350 287h1v1h-1zM304 288h1v1h-1zM322 288h1v1h-1zM345 288h2v1h-2zM340 289h1v1h-1zM342 289h3v1h-3zM346 289h1v1h-1zM348 289h1v1h-1zM305 290h1v1h-1zM314 290h1v1h-1zM343 290h1v1h-1zM346 290h3v1h-3zM305 291h1v1h-1zM312 291h1v1h-1zM340 291h1v1h-1zM343 291h4v1h-4zM351 291h1v1h-1zM304 292h2v1h-2zM307 292h1v1h-1zM315 292h1v1h-1zM317 292h1v1h-1zM324 292h1v1h-1zM337 292h1v1h-1zM340 292h1v1h-1zM342 292h8v1h-8zM304 293h4v1h-4zM310 293h1v1h-1zM314 293h1v1h-1zM317 293h1v1h-1zM323 293h1v1h-1zM325 293h1v1h-1zM329 293h1v1h-1zM333 293h1v1h-1zM341 293h4v1h-4zM346 293h1v1h-1zM348 293h1v1h-1zM304 294h5v1h-5zM310 294h2v1h-2zM313 294h1v1h-1zM316 294h2v1h-2zM321 294h2v1h-2zM325 294h1v1h-1zM330 294h1v1h-1zM335 294h1v1h-1zM337 294h1v1h-1zM341 294h3v1h-3zM345 294h2v1h-2zM349 294h2v1h-2zM304 295h2v1h-2zM310 295h3v1h-3zM314 295h1v1h-1zM318 295h1v1h-1zM322 295h1v1h-1zM324 295h1v1h-1zM326 295h1v1h-1zM329 295h1v1h-1zM331 295h1v1h-1zM337 295h2v1h-2zM342 295h5v1h-5zM304 296h4v1h-4zM310 296h1v1h-1zM313 296h5v1h-5zM320 296h3v1h-3zM326 296h1v1h-1zM333 296h1v1h-1zM337 296h1v1h-1zM339 296h8v1h-8zM348 296h1v1h-1zM304 297h1v1h-1zM306 297h8v1h-8zM315 297h5v1h-5zM321 297h1v1h-1zM323 297h3v1h-3zM330 297h1v1h-1zM334 297h1v1h-1zM336 297h11v1h-11zM348 297h1v1h-1zM304 298h4v1h-4zM309 298h8v1h-8zM318 298h4v1h-4zM323 298h6v1h-6zM330 298h1v1h-1zM332 298h1v1h-1zM334 298h2v1h-2zM338 298h5v1h-5zM344 298h2v1h-2zM347 298h1v1h-1zM351 298h1v1h-1zM304 299h4v1h-4zM309 299h2v1h-2zM312 299h10v1h-10zM324 299h2v1h-2zM327 299h1v1h-1zM329 299h2v1h-2zM332 299h1v1h-1zM337 299h2v1h-2zM341 299h3v1h-3zM345 299h2v1h-2zM349 299h1v1h-1zM304 300h3v1h-3zM308 300h15v1h-15zM324 300h5v1h-5zM330 300h1v1h-1zM334 300h1v1h-1zM340 300h7v1h-7zM349 300h1v1h-1zM304 301h26v1h-26zM331 301h3v1h-3zM336 301h4v1h-4zM341 301h8v1h-8zM304 302h22v1h-22zM327 302h2v1h-2zM331 302h4v1h-4zM338 302h9v1h-9zM349 302h1v1h-1zM304 303h23v1h-23zM328 303h1v1h-1zM331 303h1v1h-1zM333 303h1v1h-1zM336 303h2v1h-2zM339 303h9v1h-9zM304 304h20v1h-20zM325 304h3v1h-3zM329 304h4v1h-4zM335 304h1v1h-1zM337 304h2v1h-2zM340 304h6v1h-6zM347 304h2v1h-2zM304 305h28v1h-28zM333 305h1v1h-1zM337 305h1v1h-1zM339 305h5v1h-5zM345 305h3v1h-3zM304 306h32v1h-32zM337 306h4v1h-4zM342 306h2v1h-2zM345 306h3v1h-3zM304 307h24v1h-24zM329 307h2v1h-2zM332 307h5v1h-5zM338 307h2v1h-2zM341 307h4v1h-4zM347 307h1v1h-1zM304 308h26v1h-26zM331 308h7v1h-7zM340 308h1v1h-1zM342 308h2v1h-2zM345 308h1v1h-1zM347 308h1v1h-1zM304 309h11v1h-11zM316 309h17v1h-17zM334 309h1v1h-1zM337 309h7v1h-7zM345 309h2v1h-2zM348 309h1v1h-1zM304 310h34v1h-34zM340 310h5v1h-5zM346 310h2v1h-2zM304 311h21v1h-21zM326 311h6v1h-6zM333 311h1v1h-1zM335 311h2v1h-2zM338 311h1v1h-1zM343 311h3v1h-3zM304 312h24v1h-24zM329 312h1v1h-1zM332 312h1v1h-1zM337 312h1v1h-1zM342 312h1v1h-1zM347 312h1v1h-1zM304 313h26v1h-26zM332 313h3v1h-3zM337 313h1v1h-1zM344 313h2v1h-2zM304 314h1v1h-1zM306 314h1v1h-1zM308 314h23v1h-23zM335 314h1v1h-1zM338 314h3v1h-3zM342 314h1v1h-1zM345 314h1v1h-1zM304 315h2v1h-2zM307 315h8v1h-8zM317 315h5v1h-5zM323 315h8v1h-8zM333 315h2v1h-2zM336 315h1v1h-1zM339 315h1v1h-1zM341 315h2v1h-2zM344 315h2v1h-2zM347 315h1v1h-1zM304 316h5v1h-5zM310 316h6v1h-6zM317 316h4v1h-4zM322 316h3v1h-3zM326 316h1v1h-1zM330 316h2v1h-2zM337 316h1v1h-1zM341 316h2v1h-2zM304 317h10v1h-10zM315 317h2v1h-2zM319 317h1v1h-1zM321 317h1v1h-1zM323 317h3v1h-3zM327 317h2v1h-2zM331 317h2v1h-2zM334 317h1v1h-1zM336 317h1v1h-1zM342 317h1v1h-1zM351 317h1v1h-1zM304 318h9v1h-9zM314 318h4v1h-4zM326 318h1v1h-1zM347 318h1v1h-1zM304 319h4v1h-4zM309 319h1v1h-1zM311 319h2v1h-2zM314 319h1v1h-1zM318 319h2v1h-2zM324 319h1v1h-1zM329 319h1v1h-1zM332 319h1v1h-1zM336 319h1v1h-1zM341 319h1v1h-1zM305 320h1v1h-1zM307 320h1v1h-1zM316 320h1v1h-1zM321 320h1v1h-1zM328 320h1v1h-1zM330 320h1v1h-1zM336 320h1v1h-1zM339 320h1v1h-1zM305 321h2v1h-2zM308 321h1v1h-1zM318 321h1v1h-1zM322 321h1v1h-1zM329 321h1v1h-1zM339 321h1v1h-1zM306 322h1v1h-1zM309 322h1v1h-1zM312 322h1v1h-1zM318 322h1v1h-1zM304 323h3v1h-3zM309 323h2v1h-2zM314 323h1v1h-1zM317 323h1v1h-1zM347 323h1v1h-1zM311 324h1v1h-1zM317 324h1v1h-1zM319 324h1v1h-1zM305 325h2v1h-2zM309 325h1v1h-1zM319 325h1v1h-1zM323 325h1v1h-1zM315 326h1v1h-1zM318 326h1v1h-1zM332 326h1v1h-1zM305 327h1v1h-1zM310 327h2v1h-2zM317 327h1v1h-1zM321 327h2v1h-2zM337 327h1v1h-1zM312 328h1v1h-1zM318 328h1v1h-1zM337 328h1v1h-1zM306 329h1v1h-1zM314 329h1v1h-1zM317 329h1v1h-1zM319 329h1v1h-1zM328 329h1v1h-1zM332 329h1v1h-1zM308 330h2v1h-2zM314 330h3v1h-3zM318 330h1v1h-1zM307 331h3v1h-3zM316 331h2v1h-2zM319 331h3v1h-3zM326 331h1v1h-1zM305 332h2v1h-2zM308 332h12v1h-12zM321 332h3v1h-3zM325 332h3v1h-3zM330 332h1v1h-1zM305 333h2v1h-2zM308 333h9v1h-9zM318 333h2v1h-2zM321 333h3v1h-3zM327 333h2v1h-2zM305 334h2v1h-2zM308 334h8v1h-8zM317 334h1v1h-1zM319 334h3v1h-3zM323 334h1v1h-1zM325 334h1v1h-1zM327 334h2v1h-2zM333 334h1v1h-1zM338 334h1v1h-1zM304 335h1v1h-1zM306 335h20v1h-20zM327 335h3v1h-3zM331 335h1v1h-1zM339 335h1v1h-1zM304 336h24v1h-24zM329 336h1v1h-1zM332 336h1v1h-1zM304 337h2v1h-2zM307 337h11v1h-11zM319 337h10v1h-10zM334 337h1v1h-1zM304 338h26v1h-26zM304 339h23v1h-23zM328 339h4v1h-4zM304 340h28v1h-28zM304 341h13v1h-13zM318 341h13v1h-13zM334 341h1v1h-1zM304 342h27v1h-27zM332 342h1v1h-1zM304 343h29v1h-29zM304 344h27v1h-27zM304 345h26v1h-26zM331 345h1v1h-1zM333 345h1v1h-1zM304 346h23v1h-23zM328 346h3v1h-3zM338 346h1v1h-1zM304 347h27v1h-27zM304 348h29v1h-29zM337 348h1v1h-1zM304 349h26v1h-26zM334 349h1v1h-1zM304 350h26v1h-26zM332 350h1v1h-1zM335 350h1v1h-1zM304 351h27v1h-27zM334 351h1v1h-1zM304 352h23v1h-23zM328 352h1v1h-1zM330 352h1v1h-1zM334 352h1v1h-1zM304 353h27v1h-27zM333 353h3v1h-3zM304 354h18v1h-18zM323 354h7v1h-7zM304 355h27v1h-27zM338 355h1v1h-1zM305 356h23v1h-23zM329 356h2v1h-2zM305 357h13v1h-13zM319 357h6v1h-6zM327 357h3v1h-3zM331 357h1v1h-1zM305 358h15v1h-15zM321 358h6v1h-6zM329 358h2v1h-2z" fill="#0c0c0c"/>
<rect x="304" y="273.5" width="84.5" height="85.19999999999999" fill="none" stroke="#050505" stroke-width="1.1"/>
<line x1="332.5" y1="273.5" x2="332.5" y2="358.7" stroke="#050505" stroke-width="1"/>
<line x1="304" y1="326.5" x2="388.5" y2="326.5" stroke="#050505" stroke-width="1"/>
<path d="M310.6 358.7v1.5M304 352.0h-1.5M314.3 358.7v1.5M304 348.3h-1.5M316.9 358.7v1.5M304 345.6h-1.5M319.0 358.7v1.5M304 343.6h-1.5M320.6 358.7v1.5M304 341.9h-1.5M322.0 358.7v1.5M304 340.5h-1.5M323.3 358.7v1.5M304 339.3h-1.5M324.3 358.7v1.5M304 338.2h-1.5M331.6 358.7v1.5M304 330.8h-1.5M335.3 358.7v1.5M304 327.1h-1.5M337.9 358.7v1.5M304 324.4h-1.5M340.0 358.7v1.5M304 322.4h-1.5M341.6 358.7v1.5M304 320.7h-1.5M343.0 358.7v1.5M304 319.3h-1.5M344.3 358.7v1.5M304 318.1h-1.5M345.3 358.7v1.5M304 317.0h-1.5M352.6 358.7v1.5M304 309.6h-1.5M356.3 358.7v1.5M304 305.9h-1.5M358.9 358.7v1.5M304 303.2h-1.5M361.0 358.7v1.5M304 301.2h-1.5M362.6 358.7v1.5M304 299.5h-1.5M364.0 358.7v1.5M304 298.1h-1.5M365.3 358.7v1.5M304 296.9h-1.5M366.3 358.7v1.5M304 295.8h-1.5M373.6 358.7v1.5M304 288.4h-1.5M377.3 358.7v1.5M304 284.7h-1.5M379.9 358.7v1.5M304 282.0h-1.5M382.0 358.7v1.5M304 280.0h-1.5M383.6 358.7v1.5M304 278.3h-1.5M385.0 358.7v1.5M304 276.9h-1.5M386.3 358.7v1.5M304 275.7h-1.5M387.3 358.7v1.5M304 274.6h-1.5" fill="none" stroke="#050505" stroke-width="0.8"/>
<line x1="304.3" y1="358.7" x2="304.3" y2="361.5" stroke="#050505" stroke-width="1"/>
<line x1="304" y1="358.4" x2="301.2" y2="358.4" stroke="#050505" stroke-width="1"/>
<g class="tk" transform="translate(299.6,371.2) scale(0.88,1)"><text x="0" y="0" font-size="8" font-family="Liberation Sans, sans-serif" font-weight="bold">10<tspan dy="-3.6" dx="0.3" font-size="7.5">0</tspan></text></g>
<g class="tk" transform="translate(295.4,359.9) rotate(-90) scale(0.88,1)"><text x="0" y="0" font-size="8" font-family="Liberation Sans, sans-serif" font-weight="bold">10<tspan dy="-3.6" dx="0.3" font-size="7.5">0</tspan></text></g>
<line x1="325.3" y1="358.7" x2="325.3" y2="361.5" stroke="#050505" stroke-width="1"/>
<line x1="304" y1="337.2" x2="301.2" y2="337.2" stroke="#050505" stroke-width="1"/>
<g class="tk" transform="translate(320.1,371.2) scale(0.88,1)"><text x="0" y="0" font-size="8" font-family="Liberation Sans, sans-serif" font-weight="bold">10<tspan dy="-3.6" dx="0.3" font-size="7.5">1</tspan></text></g>
<g class="tk" transform="translate(295.4,339.6) rotate(-90) scale(0.88,1)"><text x="0" y="0" font-size="8" font-family="Liberation Sans, sans-serif" font-weight="bold">10<tspan dy="-3.6" dx="0.3" font-size="7.5">1</tspan></text></g>
<line x1="346.3" y1="358.7" x2="346.3" y2="361.5" stroke="#050505" stroke-width="1"/>
<line x1="304" y1="316.0" x2="301.2" y2="316.0" stroke="#050505" stroke-width="1"/>
<g class="tk" transform="translate(340.5,371.2) scale(0.88,1)"><text x="0" y="0" font-size="8" font-family="Liberation Sans, sans-serif" font-weight="bold">10<tspan dy="-3.6" dx="0.3" font-size="7.5">2</tspan></text></g>
<g class="tk" transform="translate(295.4,319.4) rotate(-90) scale(0.88,1)"><text x="0" y="0" font-size="8" font-family="Liberation Sans, sans-serif" font-weight="bold">10<tspan dy="-3.6" dx="0.3" font-size="7.5">2</tspan></text></g>
<line x1="367.3" y1="358.7" x2="367.3" y2="361.5" stroke="#050505" stroke-width="1"/>
<line x1="304" y1="294.8" x2="301.2" y2="294.8" stroke="#050505" stroke-width="1"/>
<g class="tk" transform="translate(361.0,371.2) scale(0.88,1)"><text x="0" y="0" font-size="8" font-family="Liberation Sans, sans-serif" font-weight="bold">10<tspan dy="-3.6" dx="0.3" font-size="7.5">3</tspan></text></g>
<g class="tk" transform="translate(295.4,299.1) rotate(-90) scale(0.88,1)"><text x="0" y="0" font-size="8" font-family="Liberation Sans, sans-serif" font-weight="bold">10<tspan dy="-3.6" dx="0.3" font-size="7.5">3</tspan></text></g>
<line x1="388.3" y1="358.7" x2="388.3" y2="361.5" stroke="#050505" stroke-width="1"/>
<line x1="304" y1="273.6" x2="301.2" y2="273.6" stroke="#050505" stroke-width="1"/>
<g class="tk" transform="translate(381.4,371.2) scale(0.88,1)"><text x="0" y="0" font-size="8" font-family="Liberation Sans, sans-serif" font-weight="bold">10<tspan dy="-3.6" dx="0.3" font-size="7.5">4</tspan></text></g>
<g class="tk" transform="translate(295.4,278.9) rotate(-90) scale(0.88,1)"><text x="0" y="0" font-size="8" font-family="Liberation Sans, sans-serif" font-weight="bold">10<tspan dy="-3.6" dx="0.3" font-size="7.5">4</tspan></text></g>
<text x="306.8" y="284.8" font-size="9.8" font-family="Liberation Sans, sans-serif" font-weight="bold">18.3</text>
<text x="385.0" y="318.5" font-size="9.8" text-anchor="end" font-family="Liberation Sans, sans-serif" font-weight="bold">3.15</text>
<text x="385.0" y="288.6" font-size="14.5" text-anchor="end" font-family="Liberation Sans, sans-serif" font-weight="bold">iii</text>
<path d="M448 276h1v1h-1zM450 278h1v1h-1zM455 282h1v1h-1zM432 284h1v1h-1zM439 284h1v1h-1zM439 285h1v1h-1zM439 286h1v1h-1zM442 286h1v1h-1zM445 286h1v1h-1zM454 286h1v1h-1zM448 287h1v1h-1zM451 287h1v1h-1zM454 287h1v1h-1zM430 288h1v1h-1zM432 288h1v1h-1zM437 288h1v1h-1zM447 288h1v1h-1zM449 288h1v1h-1zM428 289h2v1h-2zM431 289h1v1h-1zM434 289h1v1h-1zM438 289h1v1h-1zM448 289h1v1h-1zM454 289h1v1h-1zM429 290h1v1h-1zM432 290h3v1h-3zM436 290h1v1h-1zM439 290h3v1h-3zM443 290h1v1h-1zM445 290h1v1h-1zM448 290h1v1h-1zM428 291h1v1h-1zM431 291h3v1h-3zM436 291h1v1h-1zM438 291h3v1h-3zM442 291h1v1h-1zM444 291h1v1h-1zM447 291h2v1h-2zM451 291h1v1h-1zM454 291h1v1h-1zM456 291h2v1h-2zM464 291h1v1h-1zM428 292h6v1h-6zM435 292h2v1h-2zM438 292h5v1h-5zM444 292h1v1h-1zM447 292h2v1h-2zM452 292h2v1h-2zM428 293h6v1h-6zM436 293h2v1h-2zM440 293h2v1h-2zM444 293h1v1h-1zM446 293h1v1h-1zM448 293h4v1h-4zM453 293h1v1h-1zM458 293h1v1h-1zM481 293h1v1h-1zM430 294h10v1h-10zM441 294h1v1h-1zM443 294h1v1h-1zM449 294h1v1h-1zM451 294h4v1h-4zM456 294h1v1h-1zM459 294h1v1h-1zM464 294h2v1h-2zM428 295h12v1h-12zM441 295h9v1h-9zM452 295h1v1h-1zM454 295h1v1h-1zM456 295h1v1h-1zM458 295h1v1h-1zM461 295h1v1h-1zM469 295h1v1h-1zM428 296h8v1h-8zM438 296h6v1h-6zM445 296h4v1h-4zM450 296h1v1h-1zM452 296h1v1h-1zM455 296h2v1h-2zM458 296h1v1h-1zM471 296h1v1h-1zM428 297h24v1h-24zM454 297h4v1h-4zM459 297h2v1h-2zM462 297h1v1h-1zM465 297h2v1h-2zM470 297h1v1h-1zM428 298h7v1h-7zM436 298h2v1h-2zM439 298h18v1h-18zM458 298h2v1h-2zM461 298h1v1h-1zM471 298h1v1h-1zM473 298h1v1h-1zM428 299h29v1h-29zM459 299h1v1h-1zM461 299h1v1h-1zM464 299h1v1h-1zM467 299h1v1h-1zM470 299h1v1h-1zM428 300h17v1h-17zM446 300h9v1h-9zM456 300h1v1h-1zM458 300h2v1h-2zM461 300h1v1h-1zM463 300h1v1h-1zM466 300h2v1h-2zM470 300h2v1h-2zM473 300h1v1h-1zM475 300h1v1h-1zM479 300h1v1h-1zM485 300h1v1h-1zM428 301h30v1h-30zM459 301h5v1h-5zM465 301h1v1h-1zM471 301h1v1h-1zM474 301h1v1h-1zM428 302h28v1h-28zM457 302h3v1h-3zM461 302h2v1h-2zM465 302h1v1h-1zM467 302h4v1h-4zM473 302h1v1h-1zM477 302h1v1h-1zM428 303h4v1h-4zM433 303h5v1h-5zM439 303h14v1h-14zM455 303h8v1h-8zM464 303h3v1h-3zM468 303h1v1h-1zM470 303h2v1h-2zM475 303h1v1h-1zM477 303h1v1h-1zM486 303h1v1h-1zM428 304h34v1h-34zM463 304h5v1h-5zM472 304h1v1h-1zM476 304h1v1h-1zM428 305h19v1h-19zM448 305h21v1h-21zM471 305h2v1h-2zM475 305h1v1h-1zM477 305h1v1h-1zM481 305h1v1h-1zM428 306h46v1h-46zM475 306h1v1h-1zM428 307h22v1h-22zM451 307h17v1h-17zM469 307h7v1h-7zM483 307h1v1h-1zM428 308h29v1h-29zM458 308h4v1h-4zM463 308h6v1h-6zM470 308h5v1h-5zM476 308h1v1h-1zM478 308h1v1h-1zM428 309h35v1h-35zM464 309h6v1h-6zM471 309h4v1h-4zM476 309h1v1h-1zM478 309h1v1h-1zM489 309h1v1h-1zM428 310h1v1h-1zM430 310h19v1h-19zM450 310h1v1h-1zM452 310h17v1h-17zM470 310h2v1h-2zM473 310h1v1h-1zM476 310h1v1h-1zM480 310h1v1h-1zM482 310h2v1h-2zM485 310h1v1h-1zM428 311h32v1h-32zM461 311h1v1h-1zM463 311h3v1h-3zM467 311h2v1h-2zM470 311h4v1h-4zM478 311h3v1h-3zM428 312h22v1h-22zM451 312h7v1h-7zM459 312h13v1h-13zM474 312h1v1h-1zM478 312h1v1h-1zM428 313h32v1h-32zM462 313h2v1h-2zM465 313h4v1h-4zM470 313h1v1h-1zM472 313h3v1h-3zM476 313h1v1h-1zM428 314h5v1h-5zM434 314h5v1h-5zM440 314h9v1h-9zM451 314h7v1h-7zM459 314h11v1h-11zM471 314h1v1h-1zM473 314h4v1h-4zM428 315h9v1h-9zM438 315h7v1h-7zM447 315h10v1h-10zM458 315h4v1h-4zM463 315h1v1h-1zM465 315h4v1h-4zM470 315h1v1h-1zM472 315h2v1h-2zM480 315h1v1h-1zM429 316h1v1h-1zM431 316h3v1h-3zM435 316h2v1h-2zM438 316h3v1h-3zM442 316h2v1h-2zM446 316h7v1h-7zM454 316h2v1h-2zM459 316h1v1h-1zM464 316h1v1h-1zM466 316h1v1h-1zM468 316h1v1h-1zM472 316h1v1h-1zM477 316h2v1h-2zM430 317h1v1h-1zM434 317h6v1h-6zM441 317h4v1h-4zM448 317h2v1h-2zM452 317h3v1h-3zM457 317h1v1h-1zM460 317h1v1h-1zM466 317h2v1h-2zM474 317h1v1h-1zM429 318h8v1h-8zM439 318h1v1h-1zM442 318h1v1h-1zM450 318h3v1h-3zM459 318h1v1h-1zM461 318h1v1h-1zM464 318h1v1h-1zM467 318h1v1h-1zM470 318h3v1h-3zM475 318h1v1h-1zM477 318h1v1h-1zM428 319h1v1h-1zM430 319h5v1h-5zM437 319h1v1h-1zM442 319h1v1h-1zM447 319h1v1h-1zM451 319h1v1h-1zM455 319h1v1h-1zM480 319h1v1h-1zM428 320h1v1h-1zM430 320h1v1h-1zM435 320h1v1h-1zM437 320h3v1h-3zM442 320h1v1h-1zM445 320h1v1h-1zM449 320h2v1h-2zM457 320h1v1h-1zM462 320h1v1h-1zM464 320h1v1h-1zM485 320h1v1h-1zM488 320h1v1h-1zM428 321h1v1h-1zM431 321h1v1h-1zM433 321h1v1h-1zM436 321h1v1h-1zM440 321h2v1h-2zM445 321h2v1h-2zM450 321h1v1h-1zM428 322h1v1h-1zM430 322h1v1h-1zM434 322h1v1h-1zM438 322h1v1h-1zM440 322h1v1h-1zM443 322h1v1h-1zM445 322h1v1h-1zM450 322h1v1h-1zM452 322h1v1h-1zM429 323h1v1h-1zM437 323h1v1h-1zM441 323h1v1h-1zM443 323h1v1h-1zM447 323h1v1h-1zM429 324h3v1h-3zM439 324h1v1h-1zM442 324h1v1h-1zM448 324h1v1h-1zM433 325h1v1h-1zM436 325h1v1h-1zM436 326h1v1h-1zM444 326h1v1h-1zM454 326h1v1h-1zM430 327h1v1h-1zM435 327h1v1h-1zM441 327h3v1h-3zM450 327h1v1h-1zM429 328h1v1h-1zM438 328h1v1h-1zM442 328h1v1h-1zM429 329h1v1h-1zM438 329h1v1h-1zM440 329h2v1h-2zM443 329h1v1h-1zM448 329h1v1h-1zM451 329h1v1h-1zM453 329h1v1h-1zM455 329h1v1h-1zM432 330h1v1h-1zM437 330h1v1h-1zM446 330h1v1h-1zM432 331h3v1h-3zM440 331h1v1h-1zM442 331h2v1h-2zM445 331h2v1h-2zM449 331h1v1h-1zM453 331h3v1h-3zM457 331h1v1h-1zM459 331h1v1h-1zM429 332h5v1h-5zM435 332h1v1h-1zM437 332h1v1h-1zM439 332h4v1h-4zM444 332h8v1h-8zM428 333h2v1h-2zM432 333h4v1h-4zM437 333h2v1h-2zM440 333h1v1h-1zM442 333h2v1h-2zM445 333h8v1h-8zM428 334h6v1h-6zM435 334h3v1h-3zM439 334h5v1h-5zM445 334h7v1h-7zM454 334h1v1h-1zM428 335h19v1h-19zM449 335h5v1h-5zM457 335h1v1h-1zM460 335h1v1h-1zM428 336h26v1h-26zM459 336h1v1h-1zM428 337h2v1h-2zM431 337h22v1h-22zM455 337h1v1h-1zM457 337h1v1h-1zM428 338h10v1h-10zM439 338h9v1h-9zM449 338h7v1h-7zM428 339h27v1h-27zM428 340h28v1h-28zM457 340h1v1h-1zM428 341h27v1h-27zM457 341h1v1h-1zM428 342h23v1h-23zM452 342h3v1h-3zM457 342h1v1h-1zM428 343h25v1h-25zM454 343h2v1h-2zM457 343h1v1h-1zM428 344h26v1h-26zM456 344h2v1h-2zM428 345h28v1h-28zM458 345h1v1h-1zM428 346h26v1h-26zM455 346h1v1h-1zM428 347h11v1h-11zM440 347h17v1h-17zM428 348h28v1h-28zM457 348h1v1h-1zM461 348h1v1h-1zM428 349h1v1h-1zM430 349h27v1h-27zM458 349h1v1h-1zM428 350h27v1h-27zM456 350h1v1h-1zM466 350h1v1h-1zM428 351h27v1h-27zM428 352h27v1h-27zM456 352h1v1h-1zM459 352h1v1h-1zM463 352h1v1h-1zM474 352h1v1h-1zM428 353h24v1h-24zM453 353h2v1h-2zM456 353h1v1h-1zM470 353h1v1h-1zM428 354h7v1h-7zM436 354h19v1h-19zM456 354h2v1h-2zM461 354h1v1h-1zM428 355h16v1h-16zM445 355h7v1h-7zM454 355h1v1h-1zM456 355h1v1h-1zM428 356h4v1h-4zM433 356h19v1h-19zM453 356h2v1h-2zM428 357h1v1h-1zM430 357h1v1h-1zM432 357h1v1h-1zM434 357h3v1h-3zM438 357h12v1h-12zM451 357h6v1h-6zM428 358h26v1h-26z" fill="#0c0c0c"/>
<rect x="428.3" y="273.5" width="84.49999999999994" height="85.19999999999999" fill="none" stroke="#050505" stroke-width="1.1"/>
<line x1="456.8" y1="273.5" x2="456.8" y2="358.7" stroke="#050505" stroke-width="1"/>
<line x1="428.3" y1="326.5" x2="512.8" y2="326.5" stroke="#050505" stroke-width="1"/>
<path d="M434.9 358.7v1.5M428.3 352.0h-1.5M438.6 358.7v1.5M428.3 348.3h-1.5M441.2 358.7v1.5M428.3 345.6h-1.5M443.3 358.7v1.5M428.3 343.6h-1.5M444.9 358.7v1.5M428.3 341.9h-1.5M446.3 358.7v1.5M428.3 340.5h-1.5M447.6 358.7v1.5M428.3 339.3h-1.5M448.6 358.7v1.5M428.3 338.2h-1.5M455.9 358.7v1.5M428.3 330.8h-1.5M459.6 358.7v1.5M428.3 327.1h-1.5M462.2 358.7v1.5M428.3 324.4h-1.5M464.3 358.7v1.5M428.3 322.4h-1.5M465.9 358.7v1.5M428.3 320.7h-1.5M467.3 358.7v1.5M428.3 319.3h-1.5M468.6 358.7v1.5M428.3 318.1h-1.5M469.6 358.7v1.5M428.3 317.0h-1.5M476.9 358.7v1.5M428.3 309.6h-1.5M480.6 358.7v1.5M428.3 305.9h-1.5M483.2 358.7v1.5M428.3 303.2h-1.5M485.3 358.7v1.5M428.3 301.2h-1.5M486.9 358.7v1.5M428.3 299.5h-1.5M488.3 358.7v1.5M428.3 298.1h-1.5M489.6 358.7v1.5M428.3 296.9h-1.5M490.6 358.7v1.5M428.3 295.8h-1.5M497.9 358.7v1.5M428.3 288.4h-1.5M501.6 358.7v1.5M428.3 284.7h-1.5M504.2 358.7v1.5M428.3 282.0h-1.5M506.3 358.7v1.5M428.3 280.0h-1.5M507.9 358.7v1.5M428.3 278.3h-1.5M509.3 358.7v1.5M428.3 276.9h-1.5M510.6 358.7v1.5M428.3 275.7h-1.5M511.6 358.7v1.5M428.3 274.6h-1.5" fill="none" stroke="#050505" stroke-width="0.8"/>
<line x1="428.6" y1="358.7" x2="428.6" y2="361.5" stroke="#050505" stroke-width="1"/>
<line x1="428.3" y1="358.4" x2="425.5" y2="358.4" stroke="#050505" stroke-width="1"/>
<g class="tk" transform="translate(423.9,371.2) scale(0.88,1)"><text x="0" y="0" font-size="8" font-family="Liberation Sans, sans-serif" font-weight="bold">10<tspan dy="-3.6" dx="0.3" font-size="7.5">0</tspan></text></g>
<g class="tk" transform="translate(419.7,359.9) rotate(-90) scale(0.88,1)"><text x="0" y="0" font-size="8" font-family="Liberation Sans, sans-serif" font-weight="bold">10<tspan dy="-3.6" dx="0.3" font-size="7.5">0</tspan></text></g>
<line x1="449.6" y1="358.7" x2="449.6" y2="361.5" stroke="#050505" stroke-width="1"/>
<line x1="428.3" y1="337.2" x2="425.5" y2="337.2" stroke="#050505" stroke-width="1"/>
<g class="tk" transform="translate(444.4,371.2) scale(0.88,1)"><text x="0" y="0" font-size="8" font-family="Liberation Sans, sans-serif" font-weight="bold">10<tspan dy="-3.6" dx="0.3" font-size="7.5">1</tspan></text></g>
<g class="tk" transform="translate(419.7,339.6) rotate(-90) scale(0.88,1)"><text x="0" y="0" font-size="8" font-family="Liberation Sans, sans-serif" font-weight="bold">10<tspan dy="-3.6" dx="0.3" font-size="7.5">1</tspan></text></g>
<line x1="470.6" y1="358.7" x2="470.6" y2="361.5" stroke="#050505" stroke-width="1"/>
<line x1="428.3" y1="316.0" x2="425.5" y2="316.0" stroke="#050505" stroke-width="1"/>
<g class="tk" transform="translate(464.8,371.2) scale(0.88,1)"><text x="0" y="0" font-size="8" font-family="Liberation Sans, sans-serif" font-weight="bold">10<tspan dy="-3.6" dx="0.3" font-size="7.5">2</tspan></text></g>
<g class="tk" transform="translate(419.7,319.4) rotate(-90) scale(0.88,1)"><text x="0" y="0" font-size="8" font-family="Liberation Sans, sans-serif" font-weight="bold">10<tspan dy="-3.6" dx="0.3" font-size="7.5">2</tspan></text></g>
<line x1="491.6" y1="358.7" x2="491.6" y2="361.5" stroke="#050505" stroke-width="1"/>
<line x1="428.3" y1="294.8" x2="425.5" y2="294.8" stroke="#050505" stroke-width="1"/>
<g class="tk" transform="translate(485.2,371.2) scale(0.88,1)"><text x="0" y="0" font-size="8" font-family="Liberation Sans, sans-serif" font-weight="bold">10<tspan dy="-3.6" dx="0.3" font-size="7.5">3</tspan></text></g>
<g class="tk" transform="translate(419.7,299.1) rotate(-90) scale(0.88,1)"><text x="0" y="0" font-size="8" font-family="Liberation Sans, sans-serif" font-weight="bold">10<tspan dy="-3.6" dx="0.3" font-size="7.5">3</tspan></text></g>
<line x1="512.6" y1="358.7" x2="512.6" y2="361.5" stroke="#050505" stroke-width="1"/>
<line x1="428.3" y1="273.6" x2="425.5" y2="273.6" stroke="#050505" stroke-width="1"/>
<g class="tk" transform="translate(505.7,371.2) scale(0.88,1)"><text x="0" y="0" font-size="8" font-family="Liberation Sans, sans-serif" font-weight="bold">10<tspan dy="-3.6" dx="0.3" font-size="7.5">4</tspan></text></g>
<g class="tk" transform="translate(419.7,278.9) rotate(-90) scale(0.88,1)"><text x="0" y="0" font-size="8" font-family="Liberation Sans, sans-serif" font-weight="bold">10<tspan dy="-3.6" dx="0.3" font-size="7.5">4</tspan></text></g>
<text x="431.3" y="284.8" font-size="9.8" font-family="Liberation Sans, sans-serif" font-weight="bold">18.1</text>
<text x="509.29999999999995" y="318.5" font-size="9.8" text-anchor="end" font-family="Liberation Sans, sans-serif" font-weight="bold">3.58</text>
<text x="509.29999999999995" y="288.6" font-size="14.5" text-anchor="end" font-family="Liberation Sans, sans-serif" font-weight="bold">iv</text>
<text transform="translate(35,336) rotate(-90)" font-size="14.5" font-family="Liberation Sans, sans-serif" font-weight="bold">CD45</text>
<path d="M26 352 V381 H56" fill="none" stroke="#050505" stroke-width="1.4"/>
<path d="M26 345 L30.8 353 L21.2 353 Z" fill="#050505"/>
<text x="59" y="385.8" font-size="14" textLength="76.5" lengthAdjust="spacingAndGlyphs" font-family="Liberation Sans, sans-serif" font-weight="bold">Control Ab</text>
<line x1="143" y1="381" x2="191" y2="381" stroke="#050505" stroke-width="1.4"/>
<text x="200.5" y="385.8" font-size="14" textLength="35" lengthAdjust="spacingAndGlyphs" font-family="Liberation Sans, sans-serif" font-weight="bold">CD19</text>
<line x1="245" y1="381" x2="317" y2="381" stroke="#050505" stroke-width="1.4"/>
<text x="324.5" y="385.8" font-size="14" textLength="36.5" lengthAdjust="spacingAndGlyphs" font-family="Liberation Sans, sans-serif" font-weight="bold">CD33</text>
<line x1="367.5" y1="381" x2="432" y2="381" stroke="#050505" stroke-width="1.4"/>
<path d="M441.5 381 L431 376.5 L431 385.5 Z" fill="#050505"/>
<text x="448" y="385.8" font-size="14" textLength="36" lengthAdjust="spacingAndGlyphs" font-family="Liberation Sans, sans-serif" font-weight="bold">CD34</text>
</svg></body></html>
